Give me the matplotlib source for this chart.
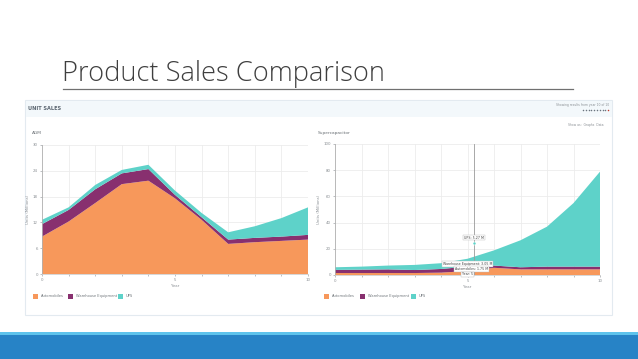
import matplotlib
matplotlib.use("Agg")
import matplotlib.pyplot as plt
from matplotlib import patches

W, H = 638, 359

years = list(range(11))
series_names = ["Automobiles", "Warehouse Equipment", "UPS"]
series_colors = ["#F7985B", "#88306F", "#5ED2C9"]

# AGM panel (units, millions)
agm_auto = [8.7, 12.2, 16.5, 20.9, 21.7, 17.6, 12.6, 7.0, 7.4, 7.7, 8.0]
agm_warehouse = [2.9, 2.7, 3.2, 2.5, 2.7, 0.8, 0.6, 1.0, 1.0, 1.0, 1.1]
agm_ups = [1.0, 0.6, 1.0, 0.8, 1.0, 1.0, 1.0, 1.7, 2.7, 4.3, 6.4]
agm_yticks = [0, 6, 12, 18, 24, 30]

# Supercapacitor panel (units, millions)
sc_auto = [1.5, 1.5, 1.5, 1.5, 1.8, 3.0, 5.5, 4.3, 4.3, 4.3, 4.3]
sc_warehouse = [2.4, 2.6, 2.8, 2.3, 2.8, 3.4, 1.7, 1.6, 2.1, 2.1, 2.1]
sc_ups = [2.0, 2.3, 2.9, 3.9, 4.4, 6.0, 11.6, 20.6, 30.5, 48.5, 72.5]
sc_yticks = [0, 20, 40, 60, 80, 100]

tooltip_lines = ["UPS: 5.27 M", "Warehouse Equipment: 3.05 M", "Automobiles: 1.75 M", "Year: 5"]

TXT = "#8a8f94"
GRID = "#ececec"


def px_axes(fig, x0, y0, x1, y1, **kw):
    # pixel box (top-left origin) -> figure axes
    return fig.add_axes([x0 / W, 1 - y1 / H, (x1 - x0) / W, (y1 - y0) / H], **kw)


def draw_chart(ax, data, yticks):
    ax.stackplot(years, *data, colors=series_colors, linewidth=0, zorder=2)
    ax.set_xlim(0, 10)
    ax.set_ylim(yticks[0], yticks[-1])
    ax.set_xticks(years)
    ax.set_xticklabels([str(y) if y % 5 == 0 else "" for y in years])
    ax.set_yticks(yticks)
    ax.grid(True, color=GRID, linewidth=0.6, zorder=0)
    for s in ["top", "right"]:
        ax.spines[s].set_visible(False)
    ax.spines["bottom"].set_color("#d0d0d0")
    ax.spines["left"].set_color("#b0b0b0")
    ax.spines["bottom"].set_linewidth(0.6)
    ax.spines["left"].set_linewidth(0.6)
    ax.tick_params(labelsize=2.8, colors=TXT, length=1.5, width=0.4, pad=1.5)
    ax.set_xlabel("Year", fontsize=2.8, color=TXT, labelpad=1.5)
    ax.set_ylabel("Units (Millions)", fontsize=2.8, color=TXT, labelpad=2)
    ax.set_axisbelow(True)


fig = plt.figure(figsize=(W / 100, H / 100), dpi=100)
fig.patch.set_facecolor("white")
bg = fig.add_axes([0, 0, 1, 1])
bg.set_xlim(0, W)
bg.set_ylim(H, 0)
bg.axis("off")

# slide title + rule
bg.text(62, 81, "Product Sales Comparison", fontsize=19.6, color="#3f3f3f",
        family="Open Sans", weight="light", va="baseline", ha="left")
bg.plot([63, 573], [89, 89], color="#707070", linewidth=0.9)

# screenshot panel
bg.add_patch(patches.Rectangle((25, 100), 587, 215, facecolor="white",
                               edgecolor="#e3eaf0", linewidth=0.8))
bg.add_patch(patches.Rectangle((25.5, 101), 586, 16, facecolor="#f3f8fb", edgecolor="none"))
bg.text(28, 109, "UNIT SALES", fontsize=3.6, color="#5a6570", va="center", weight="bold")
bg.text(609, 105, "Showing results from year 10 of 10", fontsize=2.2, color="#8a8f94",
        va="center", ha="right")
for i in range(10):
    bg.plot(583 + i * 2.8, 110, "o", markersize=1.1, color="#c0392b" if i == 9 else "#6b7580",
            markeredgewidth=0)
bg.text(604, 125, "Show as:  Graphs  Data", fontsize=2.2, color="#8a8f94", va="center", ha="right")
bg.text(32, 133, "AGM", fontsize=3.2, color="#6a7075", va="center")
bg.text(318, 133, "Supercapacitor", fontsize=3.2, color="#6a7075", va="center")

# slide footer band
bg.add_patch(patches.Rectangle((0, 331.5), W, 3.5, facecolor="#5ec3ec", edgecolor="none"))
bg.add_patch(patches.Rectangle((0, 334.5), W, 25, facecolor="#2783c6", edgecolor="none"))

# left chart
ax1 = px_axes(fig, 42, 145, 308, 274)
draw_chart(ax1, [agm_auto, agm_warehouse, agm_ups], agm_yticks)

# right chart
ax2 = px_axes(fig, 335, 144, 600, 275)
draw_chart(ax2, [sc_auto, sc_warehouse, sc_ups], sc_yticks)

# crosshair + tooltips on right chart
ax2.axvline(5.25, color="#9a9a9a", linewidth=0.6, zorder=3)
ax2.plot(5.25, 24.7, "o", markersize=2.2, markerfacecolor="#5ED2C9",
         markeredgecolor="white", markeredgewidth=0.4, zorder=4)
tip_pos = [(5.25, 28.6), (5.0, 8.4), (5.15, 4.6), (5.0, 0.4)]
for (tx, ty), label in zip(tip_pos, tooltip_lines):
    ax2.text(tx, ty, label, fontsize=2.3, color="#444444", ha="center", va="center", zorder=5,
             bbox=dict(boxstyle="square,pad=0.25", facecolor="white", edgecolor="#bbbbbb",
                       linewidth=0.3))

# legends
legend_y = 296
for lx, offs in [(33, [0, 35, 85]), (324, [0, 36, 87])]:
    for off, name, col in zip(offs, series_names, series_colors):
        bg.add_patch(patches.Rectangle((lx + off, legend_y - 2.5), 5, 5, facecolor=col,
                                       edgecolor="none"))
        bg.text(lx + off + 8, legend_y, name, fontsize=2.6, color="#70767b", va="center")

fig.savefig("out.png", dpi=100)
